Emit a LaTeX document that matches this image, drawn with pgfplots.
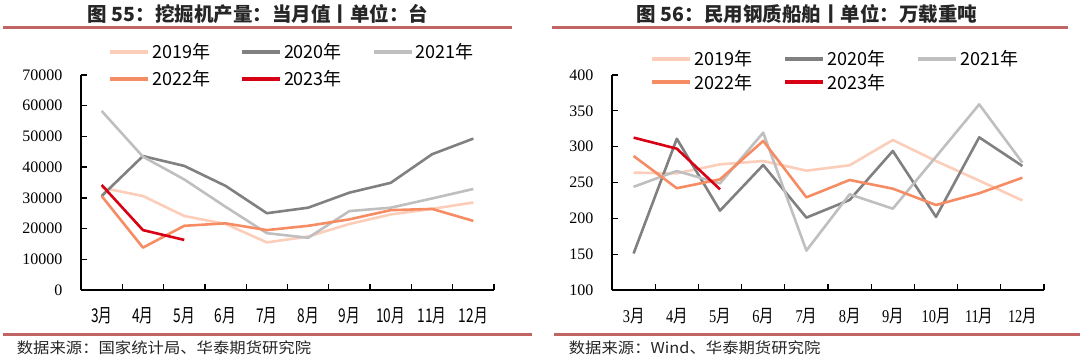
\documentclass[border=0pt]{standalone}
\usepackage{fontspec}
\usepackage{graphicx}
\setmainfont{Liberation Serif}
\newfontfamily\cjk{Noto Sans CJK SC}
\usepackage{pgfplots}
\pgfplotsset{compat=1.18}
\definecolor{cA}{RGB}{252,205,185}
\definecolor{cB}{RGB}{128,128,128}
\definecolor{cC}{RGB}{191,191,191}
\definecolor{cD}{RGB}{246,140,100}
\definecolor{cE}{RGB}{215,0,20}
\definecolor{rulec}{RGB}{192,100,100}
\newcommand{\la}[1]{\scalebox{0.72}[1]{#1月}}
\newcommand{\lb}[1]{\scalebox{0.8}[1]{#1{\cjk 月}}}
\pgfplotsset{
  common/.style={
    scale only axis, anchor=south west,
    width=413pt, height=215pt,
    xmin=0, xmax=10,
    axis lines=left,
    axis line style={line width=1.8pt,-},
    tick align=inside,
    major tick length=6pt,
    tick style={black, line width=1.3pt},
    xtick={1,2,3,4,5,6,7,8,9,10},
    scaled y ticks=false,
    /pgf/number format/assume math mode=true,
    /pgf/number format/set thousands separator={},
    yticklabel style={font=\fontsize{16}{16}\selectfont, xshift=-15pt},
    legend columns=3,
    legend cell align=left,
    legend image code/.code={\draw[#1, line width=4pt] (0pt,0pt) -- (38pt,0pt);},
    every axis plot/.append style={line width=2.6pt, line join=round},
  }
}
\begin{document}
\begin{tikzpicture}
\path[use as bounding box] (0pt,0pt) rectangle (1080pt,359pt);
% titles and rules
\node[font=\cjk\bfseries\fontsize{19.5}{19.5}\selectfont, text=black!85] at (258pt,345pt) {图 55：挖掘机产量：当月值丨单位：台};
\node[font=\cjk\bfseries\fontsize{19.5}{19.5}\selectfont, text=black!85] at (807pt,345pt) {图 56：民用钢质船舶丨单位：万载重吨};
\draw[rulec, line width=3pt] (3pt,331pt) -- (512pt,331pt);
\draw[rulec, line width=3pt] (552pt,331pt) -- (1068pt,331pt);
\draw[rulec, line width=3pt] (3pt,24pt) -- (532pt,24pt);
\draw[rulec, line width=3pt] (554pt,24pt) -- (1080pt,24pt);
\node[anchor=west, font=\cjk\fontsize{15}{15}\selectfont, text=black!85, xscale=1.09] at (13pt,11pt) {数据来源：国家统计局、华泰期货研究院};
\node[anchor=west, font=\cjk\fontsize{15}{15}\selectfont, text=black!85, xscale=1.09] at (565pt,11pt) {数据来源：Wind、华泰期货研究院};

\begin{axis}[common, at={(81pt,69pt)}, width=413pt,
  ymin=0, ymax=70000, ytick={0,10000,...,70000},
  xticklabels={\la3,\la4,\la5,\la6,\la7,\la8,\la9,\la{10},\la{11},\la{12}},
  xticklabel style={font=\cjk\fontsize{19}{19}\selectfont, xshift=-20.65pt, yshift=-14pt},
  legend style={at={(0.065,1.156)}, anchor=north west, draw=none, fill=none,
    font=\cjk\fontsize{18}{18}\selectfont, inner sep=0pt,
    /tikz/every even column/.append style={column sep=28pt}, row sep=6pt},
]
\addplot[cA] coordinates {(0.5,33300) (1.5,30600) (2.5,24100) (3.5,21500) (4.5,15500) (5.5,17400) (6.5,21500) (7.5,24600) (8.5,26400) (9.5,28500)};
\addplot[cB] coordinates {(0.5,30600) (1.5,43600) (2.5,40400) (3.5,33900) (4.5,25000) (5.5,26800) (6.5,31700) (7.5,34900) (8.5,44200) (9.5,49300)};
\addplot[cC] coordinates {(0.5,58300) (1.5,43400) (2.5,36000) (3.5,27100) (4.5,18500) (5.5,17000) (6.5,25700) (7.5,26800) (8.5,29800) (9.5,32900)};
\addplot[cD] coordinates {(0.5,30600) (1.5,13800) (2.5,20900) (3.5,21700) (4.5,19500) (5.5,20900) (6.5,23000) (7.5,26000) (8.5,26400) (9.5,22500)};
\addplot[cE] coordinates {(0.5,34200) (1.5,19500) (2.5,16300)};
\legend{2019年,2020年,2021年,2022年,2023年}
\pgfplotsinvokeforeach{1,2,3,4,5,6,7,8,9,10}{\draw[black, line width=1.3pt] (axis cs:#1,0) -- ++(0pt,6pt);}
\pgfplotsinvokeforeach{10000,20000,30000,40000,50000,60000,70000}{\draw[black, line width=1.3pt] (axis cs:0,#1) -- ++(6pt,0pt);}
\end{axis}

\begin{axis}[common, at={(612pt,69pt)}, width=432pt,
  ymin=100, ymax=400, ytick={100,150,...,400},
  xticklabels={\lb3,\lb4,\lb5,\lb6,\lb7,\lb8,\lb9,\lb{10},\lb{11},\lb{12}},
  xticklabel style={font=\fontsize{18}{18}\selectfont, xshift=-21.6pt, yshift=-15pt},
  legend style={at={(0.088,1.125)}, anchor=north west, draw=none, fill=none,
    font=\cjk\fontsize{18}{18}\selectfont, inner sep=0pt,
    /tikz/every even column/.append style={column sep=29pt}, row sep=3pt},
]
\addplot[cA] coordinates {(0.5,263.7) (1.5,262.8) (2.5,275.3) (3.5,280) (4.5,266.5) (5.5,274) (6.5,309.3) (7.5,280) (8.5,252.6) (9.5,225)};
\addplot[cB] coordinates {(0.5,151) (1.5,311) (2.5,210.7) (3.5,274.4) (4.5,201) (5.5,225.6) (6.5,294) (7.5,202) (8.5,313) (9.5,273)};
\addplot[cC] coordinates {(0.5,244) (1.5,266) (2.5,248.8) (3.5,319.5) (4.5,155) (5.5,233.5) (6.5,213.5) (7.5,286) (8.5,359) (9.5,277.7)};
\addplot[cD] coordinates {(0.5,287) (1.5,242) (2.5,254.4) (3.5,308) (4.5,229.3) (5.5,253.5) (6.5,241.4) (7.5,218.6) (8.5,235) (9.5,256.7)};
\addplot[cE] coordinates {(0.5,312.6) (1.5,297.2) (2.5,240.5)};
\legend{2019年,2020年,2021年,2022年,2023年}
\pgfplotsinvokeforeach{1,2,3,4,5,6,7,8,9,10}{\draw[black, line width=1.3pt] (axis cs:#1,100) -- ++(0pt,6pt);}
\pgfplotsinvokeforeach{150,200,250,300,350,400}{\draw[black, line width=1.3pt] (axis cs:0,#1) -- ++(6pt,0pt);}
\end{axis}
\end{tikzpicture}
\end{document}
